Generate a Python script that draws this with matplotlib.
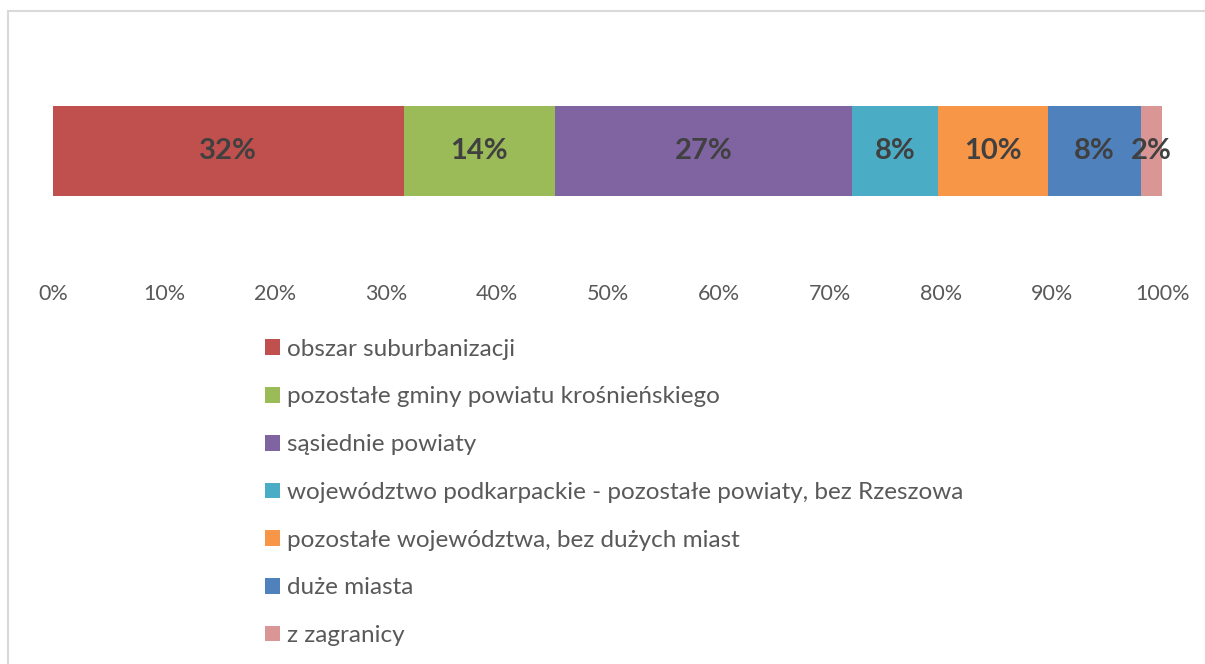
import matplotlib.pyplot as plt
from matplotlib.patches import Rectangle

plt.rcParams['font.family'] = ['Lato', 'DejaVu Sans']

# Data
categories = ['obszar suburbanizacji',
              'pozostałe gminy powiatu krośnieńskiego',
              'sąsiednie powiaty',
              'województwo podkarpackie - pozostałe powiaty, bez Rzeszowa',
              'pozostałe województwa, bez dużych miast',
              'duże miasta',
              'z zagranicy']
shares = [31.6, 13.6, 26.8, 7.7, 9.9, 8.4, 1.9]
labels = ['32%', '14%', '27%', '8%', '10%', '8%', '2%']
colors = ['#C0504D', '#9BBB59', '#8064A2', '#4BACC6', '#F79646', '#4F81BD', '#D99694']
ticks = list(range(0, 101, 10))
tick_labels = [f'{t}%' for t in ticks]

fig = plt.figure(figsize=(12.05, 6.64), dpi=100)
ax = fig.add_axes([53 / 1205, 1 - 240 / 664, 1110 / 1205, 178 / 664])

left = 0
for cat, val, lab, col in zip(categories, shares, labels, colors):
    ax.barh(0, val, left=left, height=0.5, color=col, label=cat)
    ax.text(left + val / 2, 0, lab, ha='center', va='center',
            fontsize=21, fontweight='bold', color='#404040')
    left += val

ax.set_xlim(0, 100)
ax.set_ylim(-0.5, 0.5)
ax.set_xticks(ticks)
ax.set_xticklabels(tick_labels, fontsize=15.5, color='#595959')
ax.tick_params(axis='x', length=0, pad=32)
ax.set_yticks([])
for s in ax.spines.values():
    s.set_visible(False)

fig.legend(loc='upper left', bbox_to_anchor=(255 / 1205, 1 - 329 / 664),
           frameon=False, fontsize=17.5, labelcolor='#595959',
           handlelength=0.62, handleheight=0.62, handletextpad=0.3,
           labelspacing=1.1, borderaxespad=0)

# outer chart frame
fig.patches.append(Rectangle((8 / 1205, -0.05), 1.1, 1 - 11 / 664 + 0.05,
                             transform=fig.transFigure, fill=False,
                             edgecolor='#D9D9D9', linewidth=1.5))

fig.savefig('out.png', dpi=100)
